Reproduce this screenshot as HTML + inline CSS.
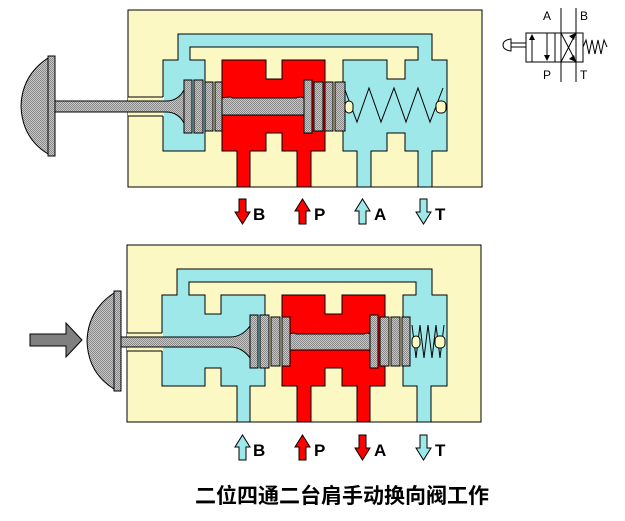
<!DOCTYPE html>
<html><head><meta charset="utf-8"><style>body{margin:0;background:#fff}svg{display:block}</style></head><body>
<svg width="625" height="521" viewBox="0 0 625 521" xmlns="http://www.w3.org/2000/svg" font-family="Liberation Sans, sans-serif">
<defs>
<pattern id="g" width="2" height="2" patternUnits="userSpaceOnUse"><rect width="2" height="2" fill="#c8c8c8"/><rect width="1" height="1" fill="#888"/><rect x="1" y="1" width="1" height="1" fill="#888"/></pattern>
</defs>
<g stroke="#000" stroke-width="1">
<!-- TOP -->
<rect x="128" y="10" width="354" height="177" fill="#fcf8c4"/>
<path d="M178 34H432V60H447V151H432V187H418V151H405V133H387V151H371V187H357V151H343V60H387V79H405V60H418V47H190V60H205V151H163V60H178Z" fill="#9ee8ea"/>
<path d="M222 60H266V79H282V60H325V151H311V187H297V151H282V133H266V151H250V187H237V151H222Z" fill="#f00"/>
<rect x="128" y="97" width="36" height="19" fill="#fcf8c4" stroke="none"/>
<path d="M128 97H163M128 116H163" fill="none"/>
<path d="M55 101H166Q178 101 184 90V123Q178 112 166 112H55Z" fill="url(#g)"/>
<path d="M222 98Q232 96 232 98H296Q300 96 304 98V115H222Z" fill="url(#g)"/>
<g fill="url(#g)"><rect x="184" y="80" width="8" height="53"/><rect x="194" y="80" width="9" height="53"/><rect x="205" y="82" width="8" height="49"/><rect x="215" y="82" width="7" height="49"/>
<rect x="304" y="80" width="8" height="53"/><rect x="314" y="82" width="9" height="49"/><rect x="325" y="82" width="8" height="49"/><rect x="335" y="82" width="10" height="49"/></g>
<polyline points="345,90 357,122 369,88 381,122 394,88 406,122 418,88 430,122 443,88" fill="none"/>
<rect x="345" y="101" width="8" height="12" rx="4" fill="#fcf8c4"/>
<rect x="436" y="101" width="10" height="12" rx="4" fill="#fcf8c4"/>
<rect x="48" y="56" width="7" height="100" fill="url(#g)"/>
<path d="M48 58Q22 75 21 106Q22 138 48 154Z" fill="url(#g)"/>
<!-- BOTTOM -->
<rect x="127" y="245" width="354" height="177" fill="#fcf8c4"/>
<path d="M177 269H432V295H447V386H431V422H417V386H403V295H416V282H189V295H205V314H221V295H265V386H250V422H237V386H221V368H205V386H162V295H177Z" fill="#9ee8ea"/>
<path d="M282 295H325V314H342V295H385V386H370V422H357V386H342V368H325V386H311V422H297V386H282Z" fill="#f00"/>
<rect x="127" y="333" width="36" height="18" fill="#fcf8c4" stroke="none"/>
<path d="M127 333H162M127 351H162" fill="none"/>
<path d="M121 337H230Q242 337 250 326V358Q242 347 230 347H121Z" fill="url(#g)"/>
<path d="M290 334Q294 332 296 334H364Q368 332 370 334V350H290Z" fill="url(#g)"/>
<g fill="url(#g)"><rect x="250" y="315" width="8" height="53"/><rect x="260" y="315" width="9" height="53"/><rect x="271" y="317" width="9" height="49"/><rect x="282" y="317" width="8" height="49"/>
<rect x="370" y="315" width="8" height="53"/><rect x="380" y="317" width="9" height="49"/><rect x="391" y="317" width="9" height="49"/><rect x="402" y="317" width="8" height="49"/></g>
<polyline points="412,325 416,358 420,325 424,358 428,325 432,358 436,325 440,358 444,325" fill="none"/>
<rect x="412" y="336" width="8" height="12" rx="4" fill="#fcf8c4"/>
<rect x="435" y="336" width="10" height="12" rx="4" fill="#fcf8c4"/>
<rect x="114" y="291" width="7" height="100" fill="url(#g)"/>
<path d="M114 293Q88 310 87 341Q88 373 114 389Z" fill="url(#g)"/>
<path d="M30 334H66V323L82 340L66 357V346H30Z" fill="#808080"/>
<!-- port arrows top -->
<path d="M239 199H246V212H250L242.5 224L235 212H239Z" fill="#f00"/>
<path d="M299 224H306V211H310L302.5 199L295 211H299Z" fill="#f00"/>
<path d="M359 224H366V211H370L362.5 199L355 211H359Z" fill="#9ee8ea"/>
<path d="M420 199H427V212H431L423.5 224L416 212H420Z" fill="#9ee8ea"/>
<!-- port arrows bottom -->
<path d="M239 460H246V447H250L242.5 435L235 447H239Z" fill="#9ee8ea"/>
<path d="M299 460H306V447H310L302.5 435L295 447H299Z" fill="#f00"/>
<path d="M359 435H366V448H370L362.5 460L355 448H359Z" fill="#f00"/>
<path d="M420 435H427V448H431L423.5 460L416 448H420Z" fill="#9ee8ea"/>
</g>
<g font-weight="bold" font-size="17">
<text x="253" y="220">B</text><text x="314" y="220">P</text><text x="374" y="220">A</text><text x="435" y="220">T</text>
<text x="253" y="456">B</text><text x="314" y="456">P</text><text x="374" y="456">A</text><text x="435" y="456">T</text>
</g>
<text x="342" y="503" text-anchor="middle" font-size="21" font-weight="bold" font-family="Liberation Sans, Noto Sans CJK SC, sans-serif">二位四通二台肩手动换向阀工作</text>
<!-- symbol -->
<g stroke="#000" fill="none" stroke-width="1">
<rect x="526" y="33" width="57" height="29"/>
<line x1="555" y1="33" x2="555" y2="62"/>
<line x1="561" y1="8" x2="561" y2="82"/><line x1="576" y1="8" x2="576" y2="82"/>
<line x1="532" y1="62" x2="532" y2="36"/><line x1="547" y1="33" x2="547" y2="58"/>
<line x1="561" y1="62" x2="575" y2="35"/><line x1="561" y1="33" x2="575" y2="60"/>
<polyline points="583,47 586,40 589,54 592,40 595,54 598,40 601,54 604,40 607,47"/>
<line x1="511" y1="47" x2="526" y2="47"/><line x1="511" y1="43" x2="526" y2="43"/>
<path d="M511 39Q503 40 503 45Q503 50 511 51Z"/>
</g>
<g fill="#000"><path d="M529 40L532 34L535 40Z"/><path d="M544 55L547 61L550 55Z"/><path d="M569 36L576 33L574 40Z"/><path d="M569 59L576 62L574 55Z"/></g>
<g font-size="12"><text x="543" y="20">A</text><text x="580" y="20">B</text><text x="543" y="79">P</text><text x="580" y="79">T</text></g>
</svg>
</body></html>
